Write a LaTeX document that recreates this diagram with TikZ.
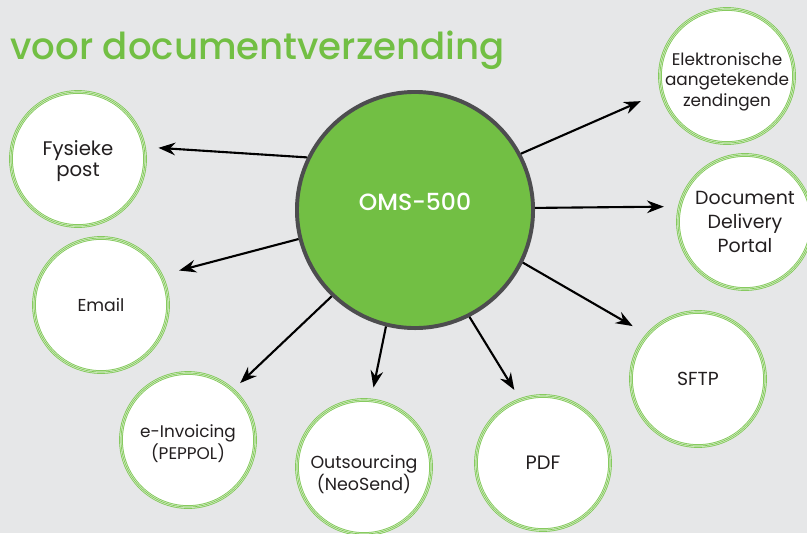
\documentclass[tikz,border=0pt]{standalone}
\usepackage{fontspec}
\setmainfont{Poppins}
\newfontfamily\mediumfont{Poppins Medium}
\usetikzlibrary{arrows.meta}
\definecolor{omsgreen}{HTML}{72BF44}
\definecolor{ringgreen}{HTML}{7CC652}
\definecolor{ringlight}{HTML}{D5EDC6}
\definecolor{bggray}{HTML}{E6E7E8}
\definecolor{rimgray}{HTML}{4D4D4F}
\definecolor{inkblack}{HTML}{231F20}
%% text lines, shifted vertically inside a circle
\newcommand\stackshift[2]{\raisebox{#1}[0pt][0pt]{\begin{tabular}{@{}c@{}}#2\end{tabular}}}
\tikzset{
    channel/.style={circle, fill=white, draw=ringgreen, line width=2.6pt,
        minimum size=3.35cm, inner sep=0pt, align=center, text=inkblack,
        postaction={draw=ringlight, line width=1.5pt},
        postaction={draw=ringgreen, line width=0.45pt}},
    hub/.style={circle, fill=omsgreen, draw=rimgray, line width=2.8pt,
        minimum size=5.9cm, inner sep=0pt, text=white},
    feed/.style={-{Stealth[length=12pt,width=9pt,inset=4pt]}, line width=1.5pt, black}
}
\begin{document}
\begin{tikzpicture}[x=0.025cm,y=-0.025cm]
    %% Background
    \fill[bggray] (0,0) rectangle (807,533);
    \useasboundingbox (0,0) rectangle (807,533);
    %% Title
    \node[anchor=base west, inner sep=0pt, text=omsgreen,
        font=\mediumfont\fontsize{26.4}{29}\selectfont] (title) at (10,59) {voor documentverzending};
    %% Centre
    \node[hub, font=\mediumfont\fontsize{16.7}{19}\selectfont] (oms) at (415,210) {\smash{OMS-500}};
    %% Channels
    \node[channel, font=\fontsize{14}{15}\selectfont] (fysiek) at (78,159) {\stackshift{-5.5pt}{Fysieke\\post}};
    \node[channel, font=\fontsize{12.3}{14}\selectfont] (email) at (101,305) {Email};
    \node[channel, font=\fontsize{12}{13.5}\selectfont] (peppol) at (188,440) {\stackshift{-6.5pt}{e-Invoicing\\(PEPPOL)}};
    \node[channel, font=\fontsize{12.4}{15}\selectfont] (neosend) at (364,467) {\stackshift{-8.8pt}{Outsourcing\\(NeoSend)}};
    \node[channel, font=\fontsize{13.8}{16}\selectfont] (pdf) at (543,463) {PDF};
    \node[channel, font=\fontsize{13.4}{16}\selectfont] (sftp) at (698,379) {SFTP};
    \node[channel, font=\fontsize{13.5}{17}\selectfont] (portal) at (745,222) {Document\\Delivery\\Portal};
    \node[channel, font=\fontsize{12}{14.5}\selectfont] (aangetekend) at (727,76) {\stackshift{-7pt}{Elektronische\\aangetekende\\zendingen}};
    %% Arrows
    \draw[feed, shorten >=9pt] (oms.154) -- (fysiek.10);
    \draw[feed, shorten >=12pt] (oms.194) -- (email.26);
    \draw[feed, shorten >=6pt] (oms.226) -- (peppol.48);
    \draw[feed, shorten >=8pt] (oms.256) -- (neosend.84);
    \draw[feed, shorten >=7pt] (oms.297) -- (pdf.110);
    \draw[feed, shorten >=11pt] (oms.334) -- (sftp.139);
    \draw[feed, shorten >=10pt] (oms.1) -- (portal.167);
    \draw[feed, shorten >=15pt] (oms.28) -- (aangetekend.194);
\end{tikzpicture}
\end{document}
